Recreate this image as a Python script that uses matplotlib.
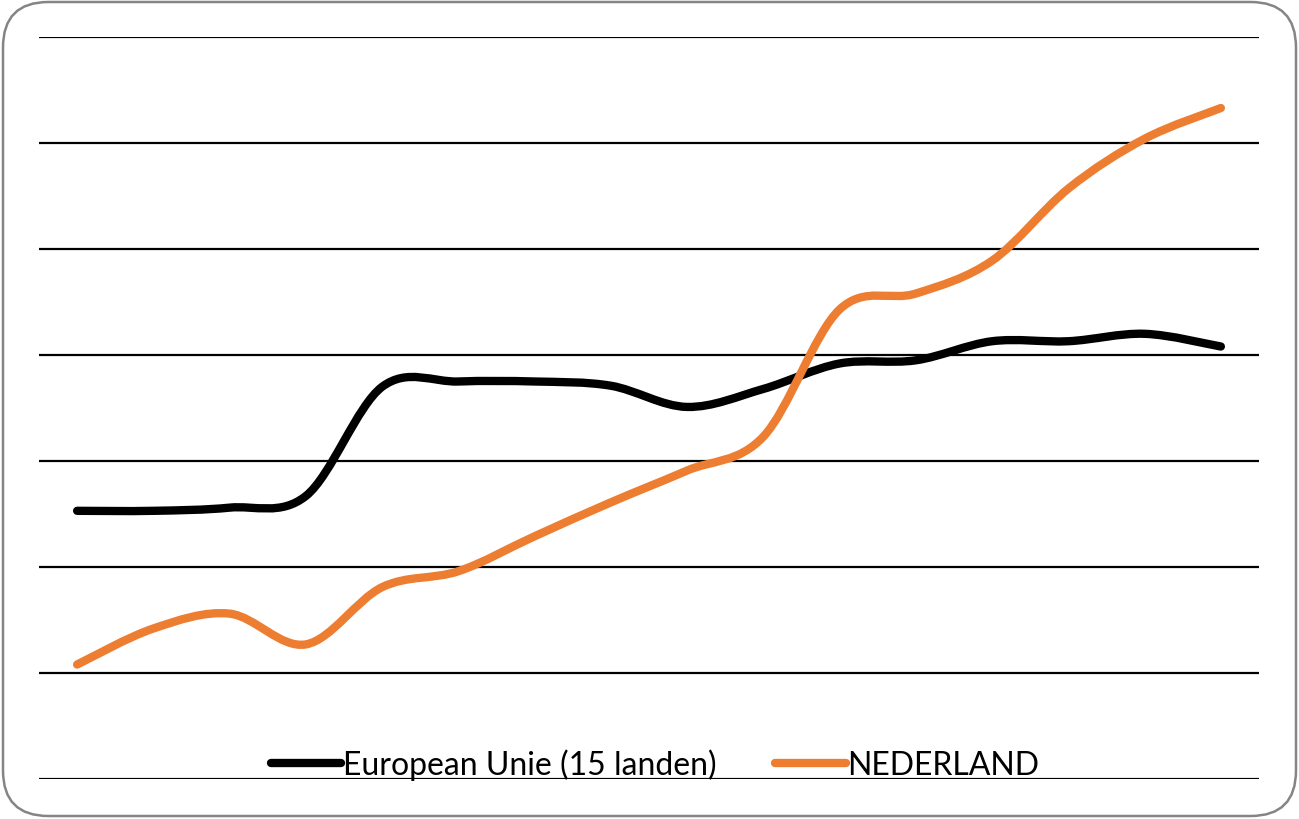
import numpy as np
import matplotlib.pyplot as plt
from matplotlib.path import Path
from matplotlib.patches import PathPatch, FancyBboxPatch
from matplotlib.lines import Line2D

# --- data (gridlines every 10 units) ---
years = list(range(1995, 2011))
eu15 = [25.3, 25.3, 25.6, 26.7, 37.0, 37.5, 37.5, 37.1, 35.1, 36.8,
        39.2, 39.5, 41.3, 41.3, 42.0, 40.8]
nederland = [10.8, 14.2, 15.6, 12.7, 18.1, 19.6, 22.9, 26.1, 29.1, 32.3,
             44.3, 45.8, 48.9, 55.7, 60.4, 63.3]
series_names = ["European Unie (15 landen)", "NEDERLAND"]
series_colors = ["#000000", "#ED7D31"]


def smooth_path(xs, ys):
    # Excel-style smoothed line: Catmull-Rom converted to cubic Beziers
    pts = np.column_stack([xs, ys]).astype(float)
    ext = np.vstack([pts[0], pts, pts[-1]])
    verts = [tuple(pts[0])]
    codes = [Path.MOVETO]
    for i in range(1, len(ext) - 2):
        p0, p1, p2, p3 = ext[i - 1], ext[i], ext[i + 1], ext[i + 2]
        c1 = p1 + (p2 - p0) / 6.0
        c2 = p2 - (p3 - p1) / 6.0
        verts += [tuple(c1), tuple(c2), tuple(p2)]
        codes += [Path.CURVE4] * 3
    return Path(verts, codes)


fig = plt.figure(figsize=(12.99, 8.2), dpi=100)
ax = fig.add_axes([39 / 1299, 40 / 820, 1220 / 1299, 742 / 820])

x = np.arange(len(years))
for vals, col in zip([eu15, nederland], series_colors):
    patch = PathPatch(smooth_path(x, vals), facecolor="none", edgecolor=col,
                      lw=6, capstyle="round", joinstyle="round", zorder=3)
    ax.add_patch(patch)

ax.set_xlim(-0.5, len(years) - 0.5)
ax.set_ylim(0, 70)
ax.set_yticks(np.arange(0, 71, 10))
ax.yaxis.grid(True, color="black", lw=1.6)
ax.set_axisbelow(True)
ax.tick_params(left=False, bottom=False, labelleft=False, labelbottom=False)
for s in ax.spines.values():
    s.set_visible(False)

# legend at the bottom
handles = [Line2D([], [], color=c, lw=6, solid_capstyle="round") for c in series_colors]
fig.legend(handles, series_names, loc="center", bbox_to_anchor=(655 / 1299, 55 / 820),
           ncol=2, frameon=False, prop={"family": "Lato", "size": 23},
           handlelength=2.2, handletextpad=0.05, columnspacing=1.85)

# rounded frame around the chart area
frame = FancyBboxPatch((3 / 1299, 3 / 820), 1293 / 1299, 814 / 820,
                       boxstyle="round,pad=0,rounding_size=0.035",
                       transform=fig.transFigure, facecolor="none",
                       edgecolor="#858585", lw=1.8, mutation_aspect=1299 / 820)
fig.patches.append(frame)

fig.savefig("out.png", dpi=100)
